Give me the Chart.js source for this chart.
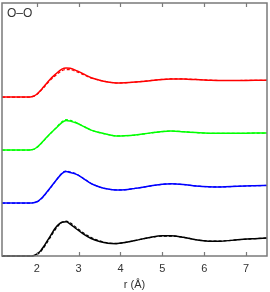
<!DOCTYPE html>
<html>
<head>
<meta charset="utf-8">
<script src="https://cdn.jsdelivr.net/npm/chart.js@4.4.1/dist/chart.umd.min.js"></script>
<style>
  html, body { margin: 0; padding: 0; background: #fff; }
  #wrap { width: 270px; height: 292px; }
</style>
</head>
<body>
<div id="wrap"><canvas id="chart"></canvas></div>
<script>
// r grid (Angstrom)
const r = [1.17, 1.7, 1.8, 1.88, 1.95, 2.0, 2.05, 2.1, 2.15, 2.2, 2.3, 2.45, 2.6, 2.7, 2.8, 2.95, 3.1, 3.3, 3.5, 3.7, 3.9, 4.1, 4.35, 4.7, 5.0, 5.2, 5.5, 5.8, 6.1, 6.4, 6.8, 7.2, 7.5];
const xTicks = [2, 3, 4, 5, 6, 7];

// g(r), solid and dashed, per curve (bottom to top)
const blackSolid  = [0, 0, 0, 0.005, 0.04, 0.10, 0.19, 0.32, 0.48, 0.66, 1.04, 1.60, 1.91, 1.94, 1.81, 1.53, 1.27, 0.99, 0.82, 0.72, 0.70, 0.76, 0.88, 1.05, 1.14, 1.14, 1.06, 0.92, 0.84, 0.84, 0.92, 0.98, 1.02];
const blackDashed = [0, 0, 0, 0.004, 0.03, 0.08, 0.16, 0.27, 0.42, 0.59, 0.96, 1.52, 1.90, 1.98, 1.88, 1.60, 1.33, 1.05, 0.86, 0.74, 0.71, 0.76, 0.88, 1.04, 1.13, 1.13, 1.06, 0.93, 0.85, 0.85, 0.92, 0.98, 1.02];
const blueSolid   = [0, 0, 0, 0.005, 0.03, 0.07, 0.14, 0.24, 0.36, 0.50, 0.79, 1.25, 1.67, 1.78, 1.73, 1.62, 1.41, 1.10, 0.91, 0.79, 0.74, 0.75, 0.83, 0.96, 1.06, 1.09, 1.05, 0.97, 0.92, 0.91, 0.95, 0.98, 1.00];
const blueDashed  = [0, 0, 0, 0.004, 0.03, 0.06, 0.13, 0.22, 0.34, 0.48, 0.77, 1.24, 1.69, 1.81, 1.76, 1.64, 1.42, 1.11, 0.91, 0.79, 0.74, 0.75, 0.83, 0.96, 1.06, 1.09, 1.05, 0.97, 0.92, 0.91, 0.95, 0.98, 1.00];
const greenSolid  = [0, 0, 0, 0.02, 0.07, 0.15, 0.25, 0.37, 0.50, 0.63, 0.88, 1.22, 1.56, 1.68, 1.64, 1.53, 1.36, 1.13, 0.99, 0.88, 0.80, 0.81, 0.85, 0.96, 1.05, 1.08, 1.04, 0.99, 0.95, 0.95, 0.95, 0.96, 0.96];
const greenDashed = [0, 0, 0, 0.02, 0.06, 0.14, 0.24, 0.36, 0.49, 0.62, 0.87, 1.23, 1.60, 1.72, 1.68, 1.55, 1.37, 1.13, 0.99, 0.88, 0.80, 0.81, 0.85, 0.96, 1.05, 1.08, 1.04, 0.99, 0.95, 0.95, 0.95, 0.96, 0.96];
const redSolid    = [0, 0, 0, 0.02, 0.08, 0.16, 0.27, 0.40, 0.54, 0.68, 0.96, 1.30, 1.58, 1.65, 1.63, 1.50, 1.33, 1.10, 0.96, 0.86, 0.80, 0.81, 0.85, 0.93, 1.00, 1.02, 1.02, 0.99, 0.96, 0.94, 0.94, 0.95, 0.95];
const redDashed   = [0, 0, 0, 0.02, 0.07, 0.15, 0.25, 0.37, 0.50, 0.63, 0.90, 1.22, 1.49, 1.56, 1.55, 1.44, 1.29, 1.08, 0.95, 0.86, 0.80, 0.81, 0.85, 0.93, 1.00, 1.03, 1.03, 1.00, 0.96, 0.94, 0.94, 0.95, 0.95];

// vertical offsets for stacking
const offsets = [0, 3, 6, 9];
const colors = ['#000000', '#0000ff', '#00ff00', '#ff0000'];
const solids = [blackSolid, blueSolid, greenSolid, redSolid];
const dashes = [blackDashed, blueDashed, greenDashed, redDashed];

const frameColor = '#7a7a7a';

function pts(vals, off) {
    return vals.map((v, i) => ({ x: r[i], y: v + off }));
}

const datasets = [];
for (let i = 0; i < 4; i++) {
    datasets.push({
        data: pts(solids[i], offsets[i]),
        borderColor: colors[i],
        borderWidth: 1.5,
        pointRadius: 0,
        cubicInterpolationMode: 'monotone',
        clip: false
    });
    datasets.push({
        data: pts(dashes[i], offsets[i]),
        borderColor: colors[i],
        borderWidth: 1.2,
        borderDash: [3, 2],
        pointRadius: 0,
        cubicInterpolationMode: 'monotone',
        clip: false
    });
}

// frame, inside ticks and panel label
const framePlugin = {
    id: 'frame',
    afterDatasetsDraw(chart) {
        const ctx = chart.ctx;
        const a = chart.chartArea;
        const xs = chart.scales.x;
        ctx.save();
        ctx.strokeStyle = frameColor;
        ctx.lineWidth = 1.5;
        ctx.strokeRect(a.left, a.top, a.right - a.left, a.bottom - a.top);
        ctx.lineWidth = 1.2;
        xTicks.forEach(t => {
            const px = Math.round(xs.getPixelForValue(t)) + 0.5;
            ctx.beginPath();
            ctx.moveTo(px, a.bottom);
            ctx.lineTo(px, a.bottom - 4);
            ctx.moveTo(px, a.top);
            ctx.lineTo(px, a.top + 4);
            ctx.stroke();
        });
        ctx.fillStyle = '#333';
        ctx.font = '12px "Liberation Sans", Arial, sans-serif';
        ctx.textBaseline = 'middle';
        ctx.fillText('O\u2013O', a.left + 5, a.top + 11);
        ctx.restore();
    }
};

new Chart(document.getElementById('chart'), {
    type: 'line',
    data: { datasets },
    options: {
        responsive: true,
        maintainAspectRatio: false,
        animation: false,
        layout: { padding: { left: 2, right: 3, top: 3, bottom: 0 } },
        plugins: { legend: { display: false }, tooltip: { enabled: false } },
        scales: {
            x: {
                type: 'linear',
                min: 1.17,
                max: 7.5,
                afterBuildTicks: s => { s.ticks = xTicks.map(v => ({ value: v })); },
                afterFit: s => { s.height = 36; },
                grid: { display: false, drawTicks: false },
                border: { display: false },
                ticks: {
                    padding: 6,
                    maxRotation: 0,
                    color: '#333',
                    font: { family: '"Liberation Sans", Arial, sans-serif', size: 11 }
                },
                title: {
                    display: true,
                    text: 'r (\u00c5)',
                    color: '#333',
                    padding: { top: 2, bottom: 0 },
                    font: { family: '"Liberation Sans", Arial, sans-serif', size: 11 }
                }
            },
            y: {
                display: false,
                min: 0,
                max: 14.33
            }
        }
    },
    plugins: [framePlugin]
});
</script>
</body>
</html>
